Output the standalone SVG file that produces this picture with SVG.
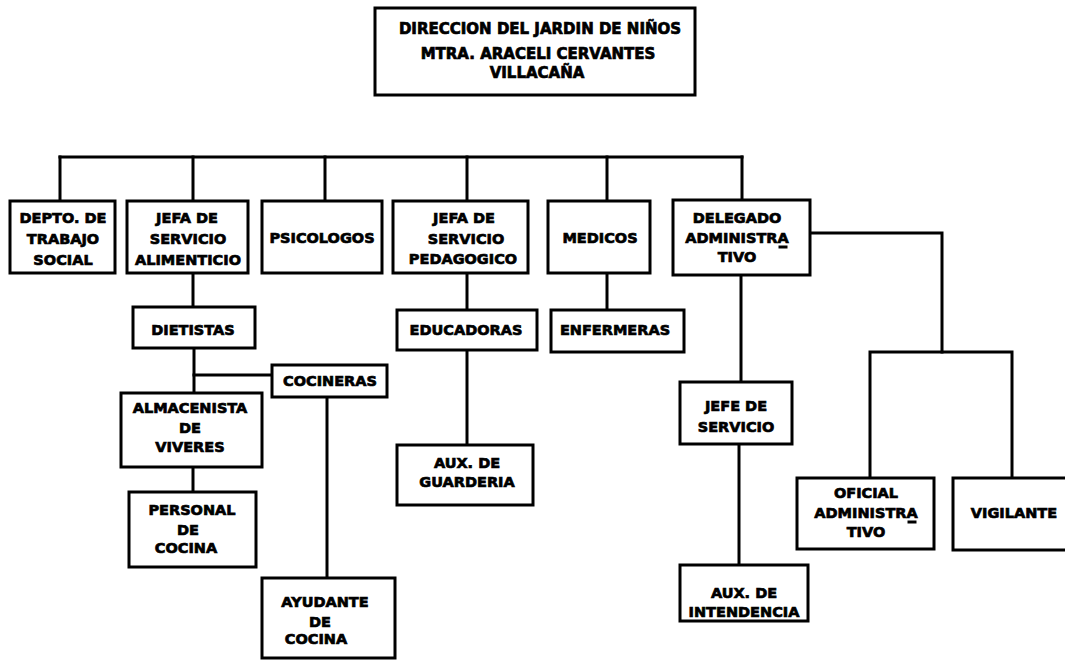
<svg xmlns="http://www.w3.org/2000/svg" width="1065" height="661" viewBox="0 0 1065 661">
<style>
  .box { fill: #fff; stroke: #000; stroke-width: 3; }
  .ln { fill: none; stroke: #000; stroke-width: 3; stroke-linecap: square; }
  text { font-family: "DejaVu Sans", "Liberation Sans", sans-serif; font-weight: bold; font-size: 14.5px; fill: #000; stroke: #000; stroke-width: 0.7; text-anchor: middle; }
  .title { font-size: 15px; }
</style>
<rect width="1065" height="661" fill="#fff"/>
<g id="connectors">
  <path class="ln" d="M60,157 H742"/>
  <path class="ln" d="M60,157 V201 M193,157 V201 M325,157 V201 M467,157 V201 M607,157 V201 M742,157 V200"/>
  <path class="ln" d="M193,273 V307"/>
  <path class="ln" d="M467,273 V310"/>
  <path class="ln" d="M607,273 V310"/>
  <path class="ln" d="M741,275 V382"/>
  <path class="ln" d="M739,444 V565"/>
  <path class="ln" d="M810,233 H942 V352"/>
  <path class="ln" d="M870,478 V352 H1012 V478"/>
  <path class="ln" d="M194,348 V393"/>
  <path class="ln" d="M194,375 H272"/>
  <path class="ln" d="M327,397 V578"/>
  <path class="ln" d="M193,467 V492"/>
  <path class="ln" d="M467,350 V445"/>
</g>
<g id="direccion">
  <rect class="box" x="375" y="8" width="320" height="87"/>
  <text class="title" x="540" y="34">DIRECCION DEL JARDIN DE NIÑOS</text>
  <text class="title" x="538" y="59">MTRA. ARACELI CERVANTES</text>
  <text class="title" x="537" y="78">VILLACAÑA</text>
</g>
<g id="depto">
  <rect class="box" x="10" y="201" width="105" height="72"/>
  <text x="63" y="223">DEPTO. DE</text>
  <text x="63" y="244">TRABAJO</text>
  <text x="63" y="265">SOCIAL</text>
</g>
<g id="jefa-alimenticio">
  <rect class="box" x="127" y="201" width="121" height="72"/>
  <text x="187" y="223">JEFA DE</text>
  <text x="188" y="244">SERVICIO</text>
  <text x="188" y="265">ALIMENTICIO</text>
</g>
<g id="psicologos">
  <rect class="box" x="262" y="201" width="120" height="72"/>
  <text x="322" y="243">PSICOLOGOS</text>
</g>
<g id="jefa-pedagogico">
  <rect class="box" x="393" y="201" width="135" height="72"/>
  <text x="464" y="223">JEFA DE</text>
  <text x="466" y="244">SERVICIO</text>
  <text x="463" y="264">PEDAGOGICO</text>
</g>
<g id="medicos">
  <rect class="box" x="548" y="201" width="102" height="72"/>
  <text x="600" y="243">MEDICOS</text>
</g>
<g id="delegado">
  <rect class="box" x="673" y="200" width="137" height="75"/>
  <text x="737" y="223">DELEGADO</text>
  <text x="737" y="243">ADMINISTRA</text>
  <text x="737" y="262">TIVO</text>
  <path class="ln" d="M780,247 H786" stroke-width="2"/>
</g>
<g id="dietistas">
  <rect class="box" x="133" y="307" width="122" height="41"/>
  <text x="193" y="335">DIETISTAS</text>
</g>
<g id="cocineras">
  <rect class="box" x="272" y="365" width="115" height="32"/>
  <text x="330" y="386">COCINERAS</text>
</g>
<g id="almacenista">
  <rect class="box" x="121" y="393" width="141" height="74"/>
  <text x="190" y="413">ALMACENISTA</text>
  <text x="190" y="433">DE</text>
  <text x="190" y="452">VIVERES</text>
</g>
<g id="personal-cocina">
  <rect class="box" x="129" y="492" width="127" height="75"/>
  <text x="192" y="515">PERSONAL</text>
  <text x="188" y="535">DE</text>
  <text x="186" y="553">COCINA</text>
</g>
<g id="ayudante-cocina">
  <rect class="box" x="262" y="578" width="133" height="80"/>
  <text x="325" y="607">AYUDANTE</text>
  <text x="320" y="627">DE</text>
  <text x="316" y="644">COCINA</text>
</g>
<g id="educadoras">
  <rect class="box" x="397" y="310" width="140" height="40"/>
  <text x="466" y="335">EDUCADORAS</text>
</g>
<g id="aux-guarderia">
  <rect class="box" x="397" y="445" width="136" height="60"/>
  <text x="467" y="468">AUX. DE</text>
  <text x="467" y="487">GUARDERIA</text>
</g>
<g id="enfermeras">
  <rect class="box" x="551" y="310" width="133" height="42"/>
  <text x="615" y="335">ENFERMERAS</text>
</g>
<g id="jefe-servicio">
  <rect class="box" x="680" y="382" width="112" height="62"/>
  <text x="736" y="411">JEFE DE</text>
  <text x="736" y="432">SERVICIO</text>
</g>
<g id="aux-intendencia">
  <rect class="box" x="680" y="565" width="128" height="56"/>
  <text x="744" y="598">AUX. DE</text>
  <text x="744" y="617">INTENDENCIA</text>
</g>
<g id="oficial">
  <rect class="box" x="797" y="478" width="137" height="71"/>
  <text x="866" y="498">OFICIAL</text>
  <text x="866" y="518">ADMINISTRA</text>
  <text x="866" y="537">TIVO</text>
  <path class="ln" d="M909,522 H915" stroke-width="2"/>
</g>
<g id="vigilante">
  <rect class="box" x="953" y="478" width="120" height="72"/>
  <text x="1014" y="518">VIGILANTE</text>
</g>
</svg>
